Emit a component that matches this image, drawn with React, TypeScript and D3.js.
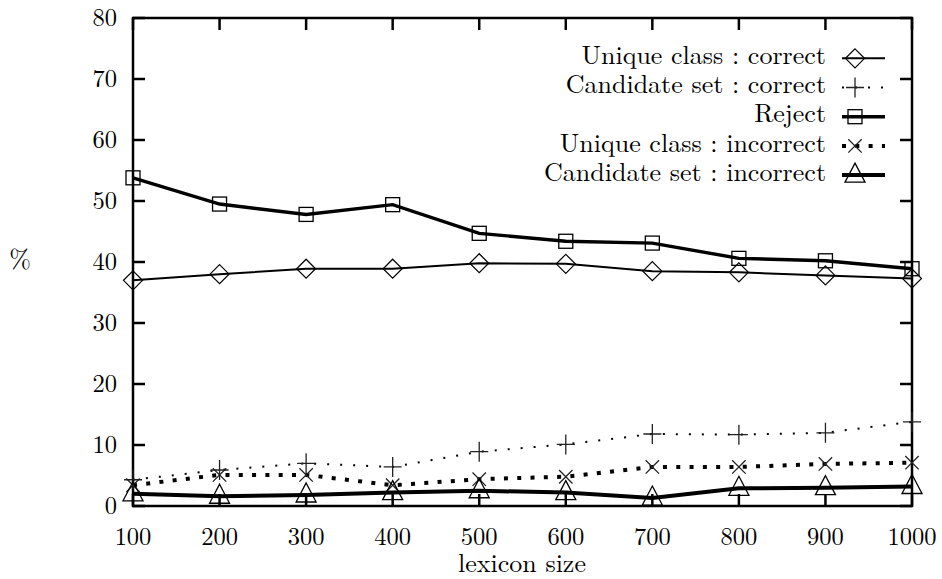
import React from "react";
import * as d3 from "d3";

const lexiconSizes = [100, 200, 300, 400, 500, 600, 700, 800, 900, 1000];
const uniqueCorrect = [37.0, 38.0, 38.9, 38.9, 39.8, 39.7, 38.5, 38.3, 37.8, 37.3];
const candidateCorrect = [4.3, 5.9, 7.0, 6.4, 8.9, 10.1, 11.8, 11.7, 12.0, 13.8];
const reject = [53.8, 49.5, 47.8, 49.4, 44.7, 43.4, 43.1, 40.6, 40.2, 38.9];
const uniqueIncorrect = [3.4, 5.1, 5.1, 3.4, 4.4, 4.8, 6.4, 6.4, 6.9, 7.1];
const candidateIncorrect = [2.0, 1.6, 1.8, 2.2, 2.5, 2.2, 1.3, 2.9, 3.0, 3.2];
const yTicks = [0, 10, 20, 30, 40, 50, 60, 70, 80];
const seriesNames = [
  "Unique class : correct",
  "Candidate set : correct",
  "Reject",
  "Unique class : incorrect",
  "Candidate set : incorrect",
];

const W = 942;
const H = 579;
const M = { left: 133, right: 912, top: 18, bottom: 506 };
const FONT = '"Latin Modern Roman"';

type Marker = "diamond" | "plus" | "square" | "cross" | "triangle";

const series: { name: string; values: number[]; width: number; dash?: string; marker: Marker }[] = [
  { name: seriesNames[0], values: uniqueCorrect, width: 2, marker: "diamond" },
  { name: seriesNames[1], values: candidateCorrect, width: 2, dash: "2 11", marker: "plus" },
  { name: seriesNames[2], values: reject, width: 3.4, marker: "square" },
  { name: seriesNames[3], values: uniqueIncorrect, width: 4, dash: "4 9.3", marker: "cross" },
  { name: seriesNames[4], values: candidateIncorrect, width: 4, marker: "triangle" },
];

function MarkerShape({ type, x, y }: { type: Marker; x: number; y: number }) {
  const common = { fill: "none", stroke: "#000" } as const;
  switch (type) {
    case "diamond":
      return (
        <path
          d={`M${x},${y - 9.5}L${x + 9.5},${y}L${x},${y + 9.5}L${x - 9.5},${y}Z`}
          {...common}
          strokeWidth={1.2}
        />
      );
    case "plus":
      return (
        <path
          d={`M${x - 9},${y}L${x + 9},${y}M${x},${y - 10}L${x},${y + 10}`}
          {...common}
          stroke="#222"
          strokeWidth={1.3}
        />
      );
    case "square":
      return <rect x={x - 7} y={y - 7} width={14} height={14} {...common} strokeWidth={1.3} />;
    case "cross":
      return (
        <path
          d={`M${x - 6.7},${y - 6.7}L${x + 6.7},${y + 6.7}M${x - 6.7},${y + 6.7}L${x + 6.7},${y - 6.7}`}
          {...common}
          stroke="#222"
          strokeWidth={1.3}
        />
      );
    case "triangle":
      return (
        <path
          d={`M${x},${y - 12}L${x + 10},${y + 7}L${x - 10},${y + 7}Z`}
          {...common}
          strokeWidth={1.3}
        />
      );
  }
}

export default function App() {
  const x = d3.scaleLinear().domain([100, 1000]).range([M.left, M.right]);
  const y = d3.scaleLinear().domain([0, 80]).range([M.bottom, M.top]);
  const line = d3
    .line<number>()
    .x((_, i) => x(lexiconSizes[i]))
    .y((d) => y(d));
  const tickLen = 12;
  const legendRowY = (i: number) => 58.3 + i * 29.2;
  const tickTxt: React.CSSProperties = { fontFamily: FONT, fontSize: "24.5px" };
  const txt: React.CSSProperties = { fontFamily: FONT, fontSize: "26px" };

  return (
    <svg width={W} height={H} style={{ position: "absolute", left: 0, top: 0, background: "#fff" }}>
      <rect x={0} y={0} width={W} height={H} fill="#fff" />
      {yTicks.map((t) => (
        <g key={`y${t}`}>
          <line x1={M.left} x2={M.left + tickLen} y1={y(t)} y2={y(t)} stroke="#000" strokeWidth={2.5} />
          <line x1={M.right} x2={M.right - tickLen} y1={y(t)} y2={y(t)} stroke="#000" strokeWidth={2.5} />
          <text x={117} y={y(t)} dy="0.32em" textAnchor="end" style={tickTxt}>
            {t}
          </text>
        </g>
      ))}
      {lexiconSizes.map((t) => (
        <g key={`x${t}`}>
          <line x1={x(t)} x2={x(t)} y1={M.bottom} y2={M.bottom - tickLen} stroke="#000" strokeWidth={2.5} />
          <line x1={x(t)} x2={x(t)} y1={M.top} y2={M.top + tickLen} stroke="#000" strokeWidth={2.5} />
          <text x={x(t)} y={545} textAnchor="middle" style={tickTxt}>
            {t}
          </text>
        </g>
      ))}
      <rect
        x={M.left}
        y={M.top}
        width={M.right - M.left}
        height={M.bottom - M.top}
        fill="none"
        stroke="#000"
        strokeWidth={2.5}
      />
      <text x={522} y={572} textAnchor="middle" style={txt}>
        lexicon size
      </text>
      <text x={20} y={260} dy="0.3em" textAnchor="middle" style={txt}>
        %
      </text>

      {series.map((s) => (
        <g key={s.name}>
          <path
            d={line(s.values) || ""}
            fill="none"
            stroke="#000"
            strokeWidth={s.width}
            strokeDasharray={s.dash}
          />
          {s.values.map((v, i) => (
            <MarkerShape key={i} type={s.marker} x={x(lexiconSizes[i])} y={y(v)} />
          ))}
        </g>
      ))}

      {series.map((s, i) => (
        <g key={`leg${i}`}>
          <text x={826} y={legendRowY(i) + 5.6} textAnchor="end" style={txt}>
            {s.name}
          </text>
          <line
            x1={842}
            x2={885}
            y1={legendRowY(i)}
            y2={legendRowY(i)}
            stroke="#000"
            strokeWidth={s.width}
            strokeDasharray={s.dash}
          />
          <MarkerShape type={s.marker} x={855} y={legendRowY(i)} />
        </g>
      ))}
    </svg>
  );
}
